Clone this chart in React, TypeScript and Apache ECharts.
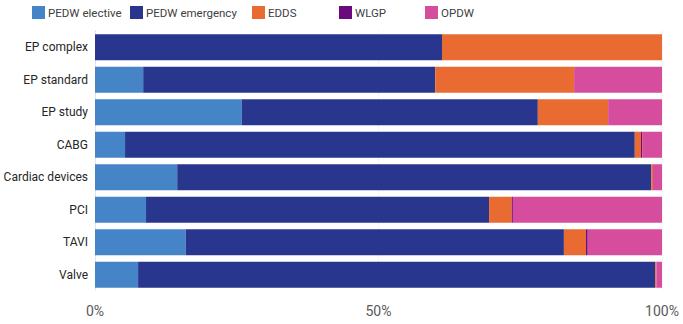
import React, { useEffect, useRef } from "react";
import * as echarts from "echarts";

const categories = [
  "EP complex",
  "EP standard",
  "EP study",
  "CABG",
  "Cardiac devices",
  "PCI",
  "TAVI",
  "Valve",
];

const pedwElective = [0, 8.5, 25.9, 5.3, 14.5, 9.0, 16.0, 7.6];
const pedwEmergency = [61.2, 51.5, 52.2, 89.9, 83.6, 60.5, 66.7, 91.2];
const edds = [38.8, 24.5, 12.4, 1.1, 0.3, 4.0, 3.9, 0.2];
const wlgp = [0, 0, 0, 0.2, 0, 0.2, 0.3, 0];
const opdw = [0, 15.5, 9.5, 3.5, 1.6, 26.3, 13.1, 1.0];

const xTicks = ["0%", "50%", "100%"];

const seriesDefs = [
  { name: "PEDW elective", data: pedwElective, color: "#4584C6", legendLeft: 32 },
  { name: "PEDW emergency", data: pedwEmergency, color: "#28368E", legendLeft: 130 },
  { name: "EDDS", data: edds, color: "#E96B32", legendLeft: 252 },
  { name: "WLGP", data: wlgp, color: "#6B0A7E", legendLeft: 339 },
  { name: "OPDW", data: opdw, color: "#D64D9E", legendLeft: 425 },
];

const FONT = "Roboto, sans-serif";

export default function App() {
  const ref = useRef<HTMLDivElement>(null);

  useEffect(() => {
    if (!ref.current) return;
    const chart = echarts.init(ref.current, null, { renderer: "svg" });
    chart.setOption({
      animation: false,
      textStyle: { fontFamily: FONT },
      // one legend per series so each entry sits in its own fixed slot
      legend: seriesDefs.map((s) => ({
        data: [s.name],
        left: s.legendLeft - 5,
        top: 1,
        icon: "rect",
        itemWidth: 13,
        itemHeight: 13,
        itemGap: 4,
        textStyle: { fontFamily: FONT, fontSize: 11.5, color: "#404040", padding: [0, 0, 0, -2] },
        selectedMode: false,
      })),
      grid: { left: 95, right: 21, top: 31, bottom: 33, containLabel: false, outerBoundsMode: "none" },
      xAxis: {
        type: "value",
        min: 0,
        max: 100,
        interval: 50,
        axisLine: { show: false },
        axisTick: { show: false },
        splitLine: { show: true, lineStyle: { color: "#ECECEC", type: "dotted", width: 1 } },
        axisLabel: {
          formatter: (v: number) => xTicks[Math.round(v / 50)] ?? "",
          color: "#595959",
          fontSize: 14,
          fontFamily: FONT,
          margin: 13,
        },
      },
      yAxis: {
        type: "category",
        data: categories,
        inverse: true,
        axisLine: { show: true, lineStyle: { color: "#DDDDDD", type: "dotted" } },
        axisTick: { show: false },
        axisLabel: { color: "#262626", fontSize: 12, fontFamily: FONT, margin: 7 },
      },
      series: seriesDefs.map((s) => ({
        name: s.name,
        type: "bar",
        stack: "total",
        data: s.data,
        barCategoryGap: "20%",
        itemStyle: { color: s.color },
        emphasis: { disabled: true },
      })),
    });
    return () => chart.dispose();
  }, []);

  return (
    <div
      ref={ref}
      style={{ position: "absolute", left: 0, top: 0, width: 683, height: 324, background: "#fff" }}
    />
  );
}
